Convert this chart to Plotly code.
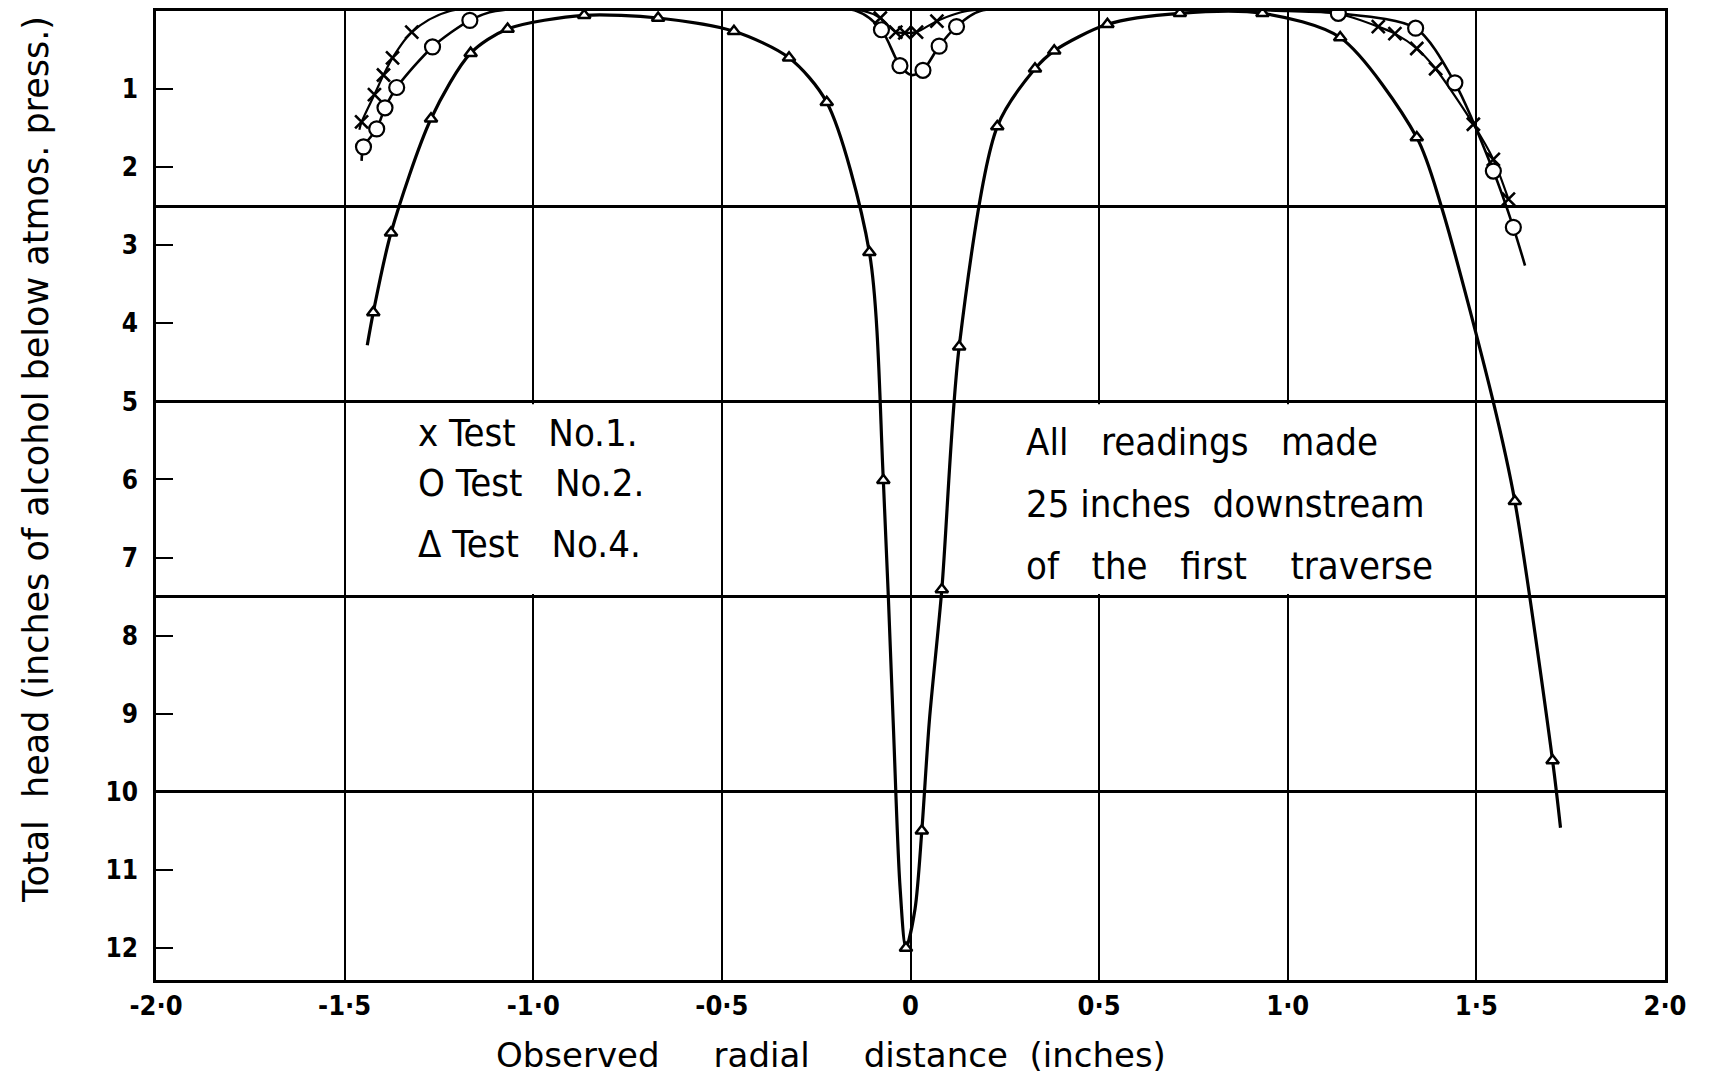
import plotly.graph_objects as go

# ---------------- data ----------------
# Test No.1 (x marks)
t1_x = [-1.455, -1.421, -1.397, -1.373, -1.322,
        -0.080, -0.039, -0.015, 0.016, 0.070,
        1.240, 1.284, 1.342, 1.392, 1.492, 1.545, 1.585]
t1_y = [1.42, 1.07, 0.82, 0.60, 0.27,
        0.09, 0.27, 0.28, 0.27, 0.13,
        0.20, 0.29, 0.48, 0.74, 1.45, 1.90, 2.41]
# extra points along the hand-drawn curve (beyond / between readings)
t1_line_x = [-1.461, -1.22, -0.125, 0.15, 1.10]
t1_line_y = [1.52, 0.0, 0.0, 0.0, 0.0]

# Test No.2 (circles)
t2_x = [-1.450, -1.415, -1.393, -1.362, -1.267, -1.168,
        -0.077, -0.028, 0.033, 0.076, 0.122,
        1.134, 1.339, 1.443, 1.545, 1.598]
t2_y = [1.74, 1.51, 1.24, 0.98, 0.46, 0.12,
        0.24, 0.70, 0.76, 0.45, 0.20,
        0.03, 0.22, 0.92, 2.05, 2.77]
t2_line_x = [-1.455, -1.10, -0.143, 0.003, 0.185, 1.00, 1.629]
t2_line_y = [1.92, 0.0, 0.0, 0.82, 0.0, 0.0, 3.26]

# Test No.4 (triangles)
t4_x = [-1.424, -1.377, -1.271, -1.166, -1.068, -0.865, -0.669, -0.468,
        -0.322, -0.222, -0.109, -0.072, -0.012, 0.030, 0.083, 0.129,
        0.230, 0.330, 0.381, 0.522, 0.714, 0.933, 1.139, 1.342, 1.602, 1.702]
t4_y = [3.86, 2.84, 1.38, 0.54, 0.23, 0.055, 0.09, 0.26,
        0.60, 1.17, 3.09, 6.01, 12.0, 10.5, 7.41, 4.30,
        1.48, 0.74, 0.51, 0.17, 0.03, 0.03, 0.34, 1.62, 6.28, 9.60]
t4_line_x = [-1.440, -0.046, -0.028, 0.012, 0.050, 1.407, 1.545, 1.723]
t4_line_y = [4.28, 9.09, 11.2, 11.5, 9.09, 2.50, 5.01, 10.46]

# axes
x_ticks = [-2.0, -1.5, -1.0, -0.5, 0.0, 0.5, 1.0, 1.5, 2.0]
x_labels = ["-2·0", "-1·5", "-1·0", "-0·5", "0", "0·5", "1·0", "1·5", "2·0"]
y_ticks = [1, 2, 3, 4, 5, 6, 7, 8, 9, 10, 11, 12]
y_labels = ["1", "2", "3", "4", "5", "6", "7", "8", "9", "10", "11", "12"]
y_grid = [2.5, 5.0, 7.5, 10.0]
x_range = [-2.0, 2.0]
y_range = [12.41, 0.0]

legend_lines = ["x Test   No.1.", "O Test   No.2.", "Δ Test   No.4."]
legend_rows = [5.40, 6.04, 6.83]
note_lines = ["All   readings   made", "25 inches  downstream", "of   the   first    traverse"]
note_rows = [5.52, 6.32, 7.11]


def curve(mx, my, lx, ly):
    pts = sorted(zip(list(mx) + list(lx), list(my) + list(ly)))
    return [p[0] for p in pts], [p[1] for p in pts]


FONT = "DejaVu Sans, Liberation Sans, sans-serif"
NARROW = "Liberation Sans Narrow, DejaVu Sans Condensed, Roboto, sans-serif"

fig = go.Figure()

for mx, my, lx, ly, w in [(t4_x, t4_y, t4_line_x, t4_line_y, 3.2),
                          (t2_x, t2_y, t2_line_x, t2_line_y, 2.6),
                          (t1_x, t1_y, t1_line_x, t1_line_y, 2.2)]:
    cx, cy = curve(mx, my, lx, ly)
    fig.add_trace(go.Scatter(x=cx, y=cy, mode="lines",
                             line=dict(color="black", width=w, shape="spline", smoothing=0.8),
                             hoverinfo="skip", showlegend=False))

fig.add_trace(go.Scatter(x=t4_x, y=t4_y, mode="markers", name="Test No.4",
                         marker=dict(symbol="triangle-up", size=11, color="white",
                                     line=dict(color="black", width=2.5)),
                         showlegend=False))
fig.add_trace(go.Scatter(x=t2_x, y=t2_y, mode="markers", name="Test No.2",
                         marker=dict(symbol="circle", size=15, color="white",
                                     line=dict(color="black", width=2.2)),
                         showlegend=False))
fig.add_trace(go.Scatter(x=t1_x, y=t1_y, mode="markers", name="Test No.1",
                         marker=dict(symbol="x-thin", size=13, color="black",
                                     line=dict(color="black", width=2.6)),
                         showlegend=False))
# dummy trace for the labelled overlay axis
fig.add_trace(go.Scatter(x=[None], y=[None], yaxis="y2", showlegend=False, hoverinfo="skip"))

# white panels behind the two text blocks (they interrupt the vertical grid lines)
panels = [(-1.485, -0.515), (0.012, 1.488)]
for x0, x1 in panels:
    fig.add_shape(type="rect", xref="x", yref="y", x0=x0, x1=x1, y0=5.035, y1=7.465,
                  fillcolor="white", line=dict(width=0), layer="between")

annotations = []
for t, r in zip(legend_lines, legend_rows):
    annotations.append(dict(x=-1.31, y=r, xref="x", yref="y", text=t,
                            showarrow=False, xanchor="left", yanchor="middle",
                            font=dict(family=NARROW, size=38, color="black")))
for t, r in zip(note_lines, note_rows):
    annotations.append(dict(x=0.30, y=r, xref="x", yref="y", text=t,
                            showarrow=False, xanchor="left", yanchor="middle",
                            font=dict(family=NARROW, size=38, color="black")))
annotations.append(dict(x=0.447, y=-0.077, xref="paper", yref="paper",
                        text="Observed     radial     distance  (inches)",
                        showarrow=False, xanchor="center", yanchor="middle",
                        font=dict(family=FONT, size=34, color="black")))
annotations.append(dict(x=-0.080, y=0.537, xref="paper", yref="paper",
                        text="Total  head (inches of alcohol below atmos. press.)",
                        textangle=-90, showarrow=False, xanchor="center", yanchor="middle",
                        font=dict(family=FONT, size=35, color="black")))

fig.update_layout(
    width=1694, height=1067,
    margin=dict(l=148, r=37, t=0, b=95),
    paper_bgcolor="white", plot_bgcolor="white",
    showlegend=False,
    annotations=annotations,
    xaxis=dict(range=x_range, tickvals=x_ticks, ticktext=x_labels,
               showgrid=True, gridcolor="black", gridwidth=2,
               showline=True, linecolor="black", linewidth=3, mirror=True,
               ticks="", zeroline=False,
               tickfont=dict(family=NARROW, size=27, color="black", weight="bold")),
    yaxis=dict(range=y_range, tickvals=y_grid, showticklabels=False,
               showgrid=True, gridcolor="black", gridwidth=3,
               showline=True, linecolor="black", linewidth=3, mirror=True,
               ticks="", zeroline=False),
    yaxis2=dict(range=y_range, overlaying="y", anchor="x", side="left",
                tickvals=y_ticks, ticktext=y_labels,
                ticks="inside", ticklen=17, tickwidth=2, tickcolor="black",
                showgrid=False, zeroline=False, showline=False,
                ticklabelstandoff=17,
                tickfont=dict(family=NARROW, size=26, color="black", weight="bold")),
)

fig.write_html("out.html")
